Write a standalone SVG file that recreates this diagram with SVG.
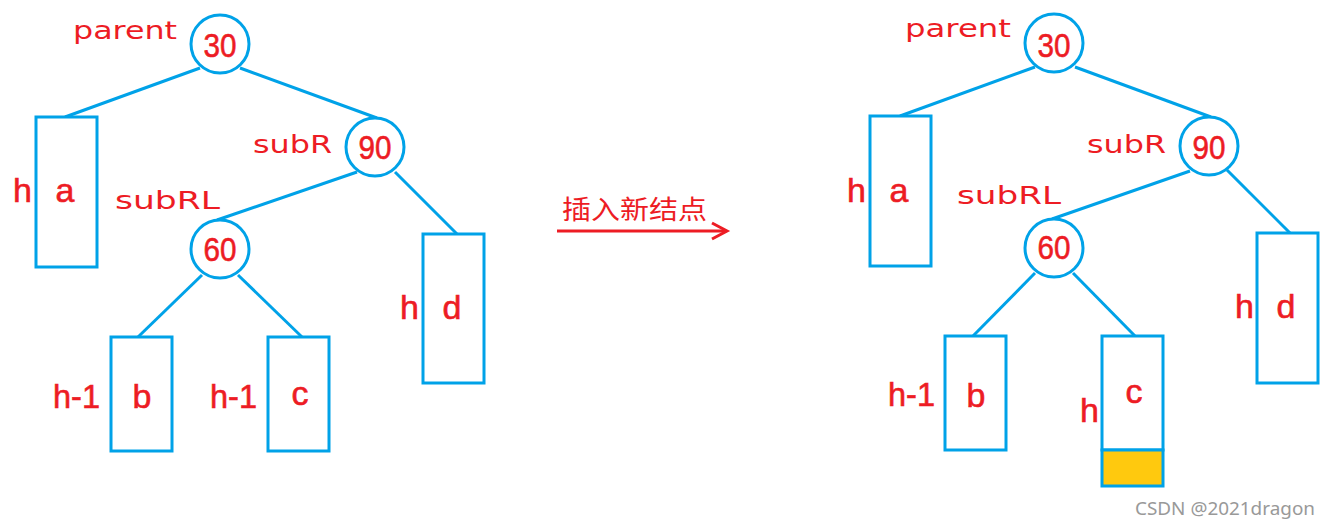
<svg xmlns="http://www.w3.org/2000/svg" width="1330" height="530" viewBox="0 0 1330 530">
<style>
.c{fill:#fff;stroke:#00A2E8;stroke-width:3}
.r{fill:#fff;stroke:#00A2E8;stroke-width:3}
.y{fill:#FFC90E;stroke:#00A2E8;stroke-width:3}
.e{stroke:#00A2E8;stroke-width:3;fill:none}
.n{font-family:"Liberation Sans Narrow","Liberation Sans",Arial,sans-serif;font-size:34px;fill:#ED1C24;stroke:#ED1C24;stroke-width:0.6;text-anchor:middle}
.t{font-family:"Liberation Sans Narrow","Liberation Sans",Arial,sans-serif;font-size:34px;fill:#ED1C24;stroke:#ED1C24;stroke-width:0.6}
.l{font-family:"DejaVu Sans",sans-serif;font-size:24px;fill:#ED1C24}
.cn{font-family:"Noto Sans CJK SC",sans-serif;font-size:26px;fill:#ED1C24}
.w{font-family:"Noto Sans","Open Sans",sans-serif;font-size:18px;fill:#999}
</style>
<rect width="1330" height="530" fill="#fff"/>
<g id="connectors">
<line class="e" x1="200" y1="68" x2="65" y2="117"/>
<line class="e" x1="240" y1="68" x2="377" y2="118"/>
<line class="e" x1="357" y1="172" x2="217" y2="220"/>
<line class="e" x1="395" y1="172" x2="457" y2="234"/>
<line class="e" x1="202" y1="275" x2="138" y2="337"/>
<line class="e" x1="238" y1="275" x2="302" y2="337"/>
<line class="e" x1="1035" y1="67" x2="900" y2="116"/>
<line class="e" x1="1075" y1="67" x2="1211" y2="117"/>
<line class="e" x1="1190" y1="171" x2="1052" y2="219"/>
<line class="e" x1="1227" y1="170" x2="1290" y2="233"/>
<line class="e" x1="1035" y1="273" x2="973" y2="336"/>
<line class="e" x1="1073" y1="273" x2="1135" y2="336"/>
<g id="arrow" stroke="#ED1C24" stroke-width="3" fill="none">
<line x1="557" y1="231" x2="726" y2="231"/>
<polyline points="712,223 727,231 712,239"/>
</g>
</g>
<text class="cn" x="562" y="219" textLength="145" lengthAdjust="spacingAndGlyphs">插入新结点</text>
<g id="L30"><circle class="c" cx="220" cy="44" r="29"/><text class="n" x="220" y="57" textLength="33" lengthAdjust="spacingAndGlyphs">30</text><text class="l" x="73" y="39" textLength="104" lengthAdjust="spacingAndGlyphs">parent</text></g>
<g id="L90"><circle class="c" cx="375" cy="147" r="29"/><text class="n" x="375" y="159" textLength="33" lengthAdjust="spacingAndGlyphs">90</text><text class="l" x="253" y="153" textLength="79" lengthAdjust="spacingAndGlyphs">subR</text></g>
<g id="L60"><circle class="c" cx="220" cy="249" r="29"/><text class="n" x="220" y="261" textLength="33" lengthAdjust="spacingAndGlyphs">60</text><text class="l" x="115" y="209" textLength="105" lengthAdjust="spacingAndGlyphs">subRL</text></g>
<g id="La"><rect class="r" x="36" y="117" width="61" height="150"/><text class="n" x="65" y="202">a</text><text class="t" x="13" y="202">h</text></g>
<g id="Ld"><rect class="r" x="423" y="234" width="61" height="149"/><text class="n" x="452" y="319">d</text><text class="t" x="400" y="319">h</text></g>
<g id="Lb"><rect class="r" x="111" y="337" width="61" height="114"/><text class="n" x="142" y="408">b</text><text class="t" x="53" y="408" textLength="47" lengthAdjust="spacingAndGlyphs">h-1</text></g>
<g id="Lc"><rect class="r" x="268" y="337" width="61" height="114"/><text class="n" x="300" y="405">c</text><text class="t" x="210" y="408" textLength="47" lengthAdjust="spacingAndGlyphs">h-1</text></g>
<g id="R30"><circle class="c" cx="1054" cy="43" r="29"/><text class="n" x="1054" y="57" textLength="33" lengthAdjust="spacingAndGlyphs">30</text><text class="l" x="905" y="37" textLength="106" lengthAdjust="spacingAndGlyphs">parent</text></g>
<g id="R90"><circle class="c" cx="1209" cy="146" r="29"/><text class="n" x="1209" y="159" textLength="33" lengthAdjust="spacingAndGlyphs">90</text><text class="l" x="1087" y="153" textLength="79" lengthAdjust="spacingAndGlyphs">subR</text></g>
<g id="R60"><circle class="c" cx="1054" cy="248" r="29"/><text class="n" x="1054" y="259" textLength="33" lengthAdjust="spacingAndGlyphs">60</text><text class="l" x="957" y="204" textLength="104" lengthAdjust="spacingAndGlyphs">subRL</text></g>
<g id="Ra"><rect class="r" x="870" y="116" width="61" height="150"/><text class="n" x="899" y="202">a</text><text class="t" x="847" y="202">h</text></g>
<g id="Rd"><rect class="r" x="1257" y="233" width="61" height="150"/><text class="n" x="1286" y="318">d</text><text class="t" x="1235" y="318">h</text></g>
<g id="Rb"><rect class="r" x="945" y="336" width="61" height="114"/><text class="n" x="976" y="407">b</text><text class="t" x="888" y="406" textLength="47" lengthAdjust="spacingAndGlyphs">h-1</text></g>
<g id="Rc"><rect class="r" x="1102" y="336" width="61" height="114"/><rect class="y" x="1102" y="450" width="61" height="36"/><text class="n" x="1134" y="403">c</text><text class="t" x="1080" y="422">h</text></g>
<text class="w" x="1135" y="515" textLength="180" lengthAdjust="spacingAndGlyphs">CSDN @2021dragon</text>
</svg>
